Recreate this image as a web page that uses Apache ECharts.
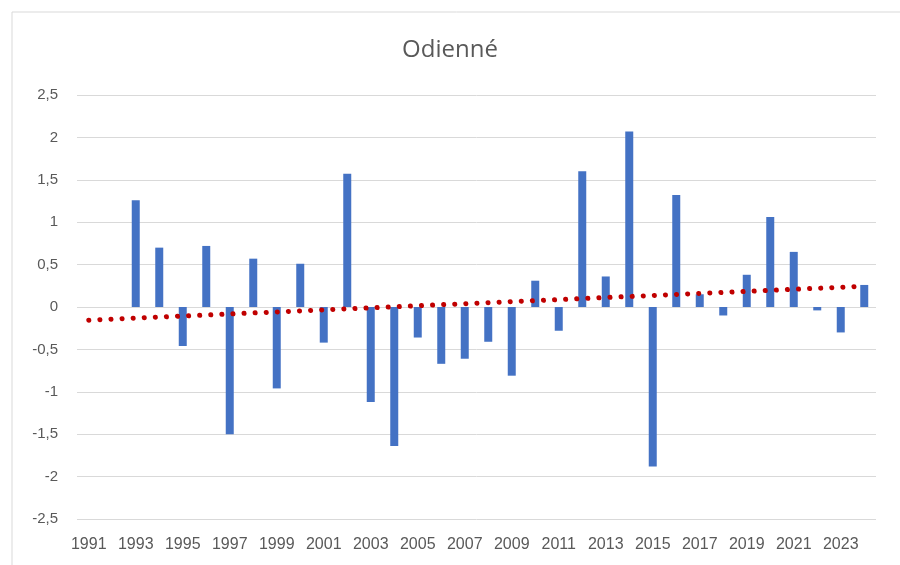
<!DOCTYPE html>
<html>
<head>
<meta charset="utf-8">
<script src="https://cdn.jsdelivr.net/npm/echarts@6/dist/echarts.min.js"></script>
<style>
  html, body { margin: 0; padding: 0; background: #fff; }
  #chart { width: 900px; height: 565px; }
</style>
</head>
<body>
<div id="chart"></div>
<script>
// années
var years = ['1991','1992','1993','1994','1995','1996','1997','1998','1999','2000',
    '2001','2002','2003','2004','2005','2006','2007','2008','2009','2010',
    '2011','2012','2013','2014','2015','2016','2017','2018','2019','2020',
    '2021','2022','2023','2024'];
// anomalies
var values = [null, null, 1.26, 0.70, -0.46, 0.72, -1.50, 0.57, -0.96, 0.51,
    -0.42, 1.57, -1.12, -1.64, -0.36, -0.67, -0.61, -0.41, -0.81, 0.31,
    -0.28, 1.60, 0.36, 2.07, -1.88, 1.32, 0.15, -0.10, 0.38, 1.06,
    0.65, -0.04, -0.30, 0.26];
// tendance linéaire : extrémités
var trendYears = ['1991', '2024'];
var trendValues = [-0.155, 0.245];

var myChart = echarts.init(document.getElementById('chart'));
var option = {
    animation: false,
    title: {
        text: 'Odienné',
        left: 'center',
        top: 33,
        textStyle: {
            color: '#595959',
            fontSize: 24,
            fontWeight: 'normal',
            fontFamily: 'Open Sans'
        }
    },
    graphic: [{
        type: 'rect',
        shape: { x: 12, y: 12, width: 920, height: 600 },
        style: { fill: 'none', stroke: '#d9d9d9', lineWidth: 1 },
        silent: true
    }],
    grid: { left: 77, right: 24, top: 95, bottom: 46 },
    xAxis: {
        type: 'category',
        data: years,
        axisLine: { show: false },
        axisTick: { show: false },
        axisLabel: {
            interval: 1,
            color: '#595959',
            fontSize: 16,
            fontFamily: 'Liberation Sans',
            margin: 18
        }
    },
    yAxis: {
        type: 'value',
        min: -2.5,
        max: 2.5,
        interval: 0.5,
        axisLine: { show: false },
        axisTick: { show: false },
        axisLabel: {
            color: '#595959',
            fontSize: 15,
            fontFamily: 'Liberation Sans',
            margin: 19,
            formatter: function (v) { return String(v).replace('.', ','); }
        },
        splitLine: { lineStyle: { color: '#d9d9d9', width: 1 } }
    },
    series: [{
        name: 'anomalie',
        type: 'bar',
        data: values,
        barWidth: 8,
        itemStyle: { color: '#4472C4' }
    }, {
        name: 'tendance',
        type: 'line',
        data: [[trendYears[0], trendValues[0]], [trendYears[1], trendValues[1]]],
        symbol: 'none',
        lineStyle: {
            color: '#C00000',
            width: 5,
            type: [0.1, 11],
            cap: 'round'
        },
        z: 3
    }]
};
myChart.setOption(option);
</script>
</body>
</html>
